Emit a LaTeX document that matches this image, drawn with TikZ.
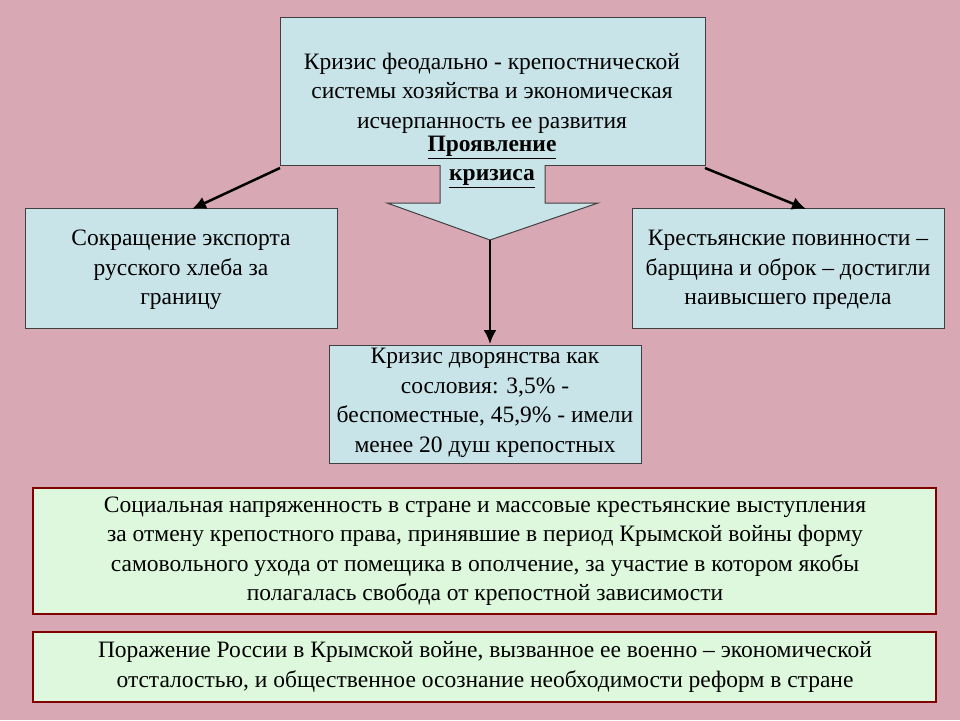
\documentclass[tikz,border=0pt]{standalone}
\usepackage{fontspec}
\setmainfont{Liberation Serif}
\usetikzlibrary{arrows.meta}
\definecolor{bg}{HTML}{D8A9B4}
\definecolor{blueb}{HTML}{C8E4E8}
\definecolor{greenb}{HTML}{DDF8DC}
\begin{document}
\begin{tikzpicture}[x=1pt,y=-1pt,
  bx/.style={draw=black!75,line width=1pt,fill=blueb},
  gx/.style={draw=red!50!black,line width=1.2pt,fill=greenb},
  tx/.style={align=center,font=\fontsize{23.5}{29.5}\selectfont,inner sep=0pt},
  arr/.style={line width=2.5pt,-{Latex[length=14pt,width=13pt]}}]
\useasboundingbox (0,0) rectangle (960,720);
\fill[bg] (0,0) rectangle (960,720);
\draw[bx] (280,17) rectangle (705,165);
\draw[draw=black!75,line width=1pt,fill=blueb] (440,165) -- (440,203) -- (387,203) -- (490,240) -- (598,203) -- (545,203) -- (545,165);
\fill[blueb] (441,160) rectangle (544,166);
\node[tx] (toptext) at (492,93) {Кризис феодально - крепостнической\\системы хозяйства и экономическая\\исчерпанность ее развития};
\node[tx,font=\fontsize{23.5}{29.5}\selectfont\bfseries] (prav) at (492,162) {\underline{Проявление}\\\underline{кризиса}};
\coordinate (tip) at (490,240);
\draw[bx] (25,208) rectangle (337,328);
\node[tx] (left) at (181,270) {Сокращение экспорта\\русского хлеба за\\границу};
\draw[bx] (632,208) rectangle (944,328);
\node[tx] (right) at (788,270) {Крестьянские повинности –\\барщина и оброк – достигли\\наивысшего предела};
\draw[bx] (329,345) rectangle (641,463);
\node[tx] (mid) at (485,403) {Кризис дворянства как\\сословия: 3,5\% -\\беспоместные, 45,9\% - имели\\менее 20 душ крепостных};
\draw[gx] (33,488) rectangle (936,614);
\node[tx] (g1) at (485,551) {Социальная напряженность в стране и массовые крестьянские выступления\\за отмену крепостного права, принявшие в период Крымской войны форму\\самовольного ухода от помещика в ополчение, за участие в котором якобы\\полагалась свобода от крепостной зависимости};
\draw[gx] (33,632) rectangle (936,702);
\node[tx] (g2) at (485,667) {Поражение России в Крымской войне, вызванное ее военно – экономической\\отсталостью, и общественное осознание необходимости реформ в стране};
\coordinate (la) at (280,168);
\coordinate (lb) at (192,209);
\coordinate (ra) at (705,168);
\coordinate (rb) at (806,209);
\coordinate (mb) at (490,344);
\draw[arr] (la) -- (lb);
\draw[arr] (ra) -- (rb);
\draw[arr] (tip) -- (mb);
\end{tikzpicture}
\end{document}
